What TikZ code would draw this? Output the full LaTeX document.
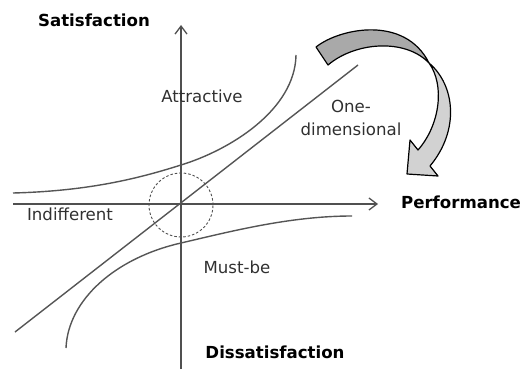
\documentclass[tikz,border=0pt]{standalone}
\usepackage{fontspec}
\setmainfont{DejaVu Sans}
\usetikzlibrary{arrows.meta}
\definecolor{axisgray}{HTML}{505050}
\definecolor{curvegray}{HTML}{555555}
\definecolor{txtgray}{HTML}{303030}
\definecolor{darkband}{HTML}{A9A9A9}
\definecolor{lightband}{HTML}{D2D2D2}
\tikzset{
  axisline/.style={draw=axisgray, line width=1.3pt, -{Straight Barb[length=8pt,width=12pt]}},
  curveline/.style={draw=curvegray, line width=1.4pt},
  lbl/.style={font=\fontsize{16.6}{19}\selectfont, text=txtgray, anchor=base, inner sep=0pt},
  blbl/.style={font=\fontsize{16.6}{19}\selectfont\bfseries, text=black, anchor=base, inner sep=0pt},
  band/.style={draw=black, line width=1.2pt, line join=round},
}
\begin{document}
\begin{tikzpicture}[x=1pt,y=-1pt]
\useasboundingbox (0,0) rectangle (526,369);
% axes
\coordinate (xstart) at (13,204);
\coordinate (xend) at (378,204);
\coordinate (ystart) at (181,369);
\coordinate (yend) at (181,25);
\draw[axisline] (xstart) -- (xend);
\draw[axisline] (ystart) -- (yend);
% dashed circle
\node[draw=axisgray, dashed, dash pattern=on 2.5pt off 2pt, line width=0.9pt, circle, minimum size=64pt, inner sep=0pt] (origin) at (181,205) {};
% one-dimensional line
\coordinate (odlow) at (15,332);
\coordinate (odhigh) at (358,65);
\draw[curveline] (odlow) -- (odhigh);
% attractive curve
\coordinate (atleft) at (13,193);
\coordinate (atmid) at (181,165);
\coordinate (attop) at (296,55);
\draw[curveline] (atleft) .. controls (90,191) and (140,178) .. (atmid)
  .. controls (230,150) and (295,110) .. (attop);
% must-be curve
\coordinate (mbbottom) at (66,348);
\coordinate (mbmid) at (181,243);
\coordinate (mbright) at (352,216);
\draw[curveline] (mbbottom) .. controls (68,300) and (115,258) .. (mbmid)
  .. controls (230,231.6) and (290,216) .. (mbright);
% curved arrow
\coordinate (tailout) at (316,47);
\coordinate (tailin) at (328,65);
\coordinate (twist) at (429,63);
\coordinate (joinin) at (418,150);
\coordinate (barbl) at (410,140);
\coordinate (tip) at (407,174);
\coordinate (barbr) at (438,176);
\coordinate (joinout) at (430,166);
\filldraw[band, fill=lightband] (twist) .. controls (445,85) and (440,125) .. (joinin) -- (barbl) -- (tip) -- (barbr) -- (joinout) .. controls (460,130) and (455,85) .. (twist) -- cycle;
\filldraw[band, fill=darkband] (tailout) .. controls (340,28) and (405,15) .. (twist) .. controls (405,38) and (355,42) .. (tailin) -- cycle;
% labels
\node[blbl] (sat) at (94,27) {Satisfaction};
\node[blbl] (perf) at (461,208) {Performance};
\node[blbl] (dissat) at (275,358) {Dissatisfaction};
\node[lbl] (attr) at (202,102) {Attractive};
\node[lbl] (one) at (351,112) {One-};
\node[lbl] (dim) at (351,135) {dimensional};
\node[lbl] (indiff) at (70,220) {Indifferent};
\node[lbl] (must) at (237,273) {Must-be};
\end{tikzpicture}
\end{document}
